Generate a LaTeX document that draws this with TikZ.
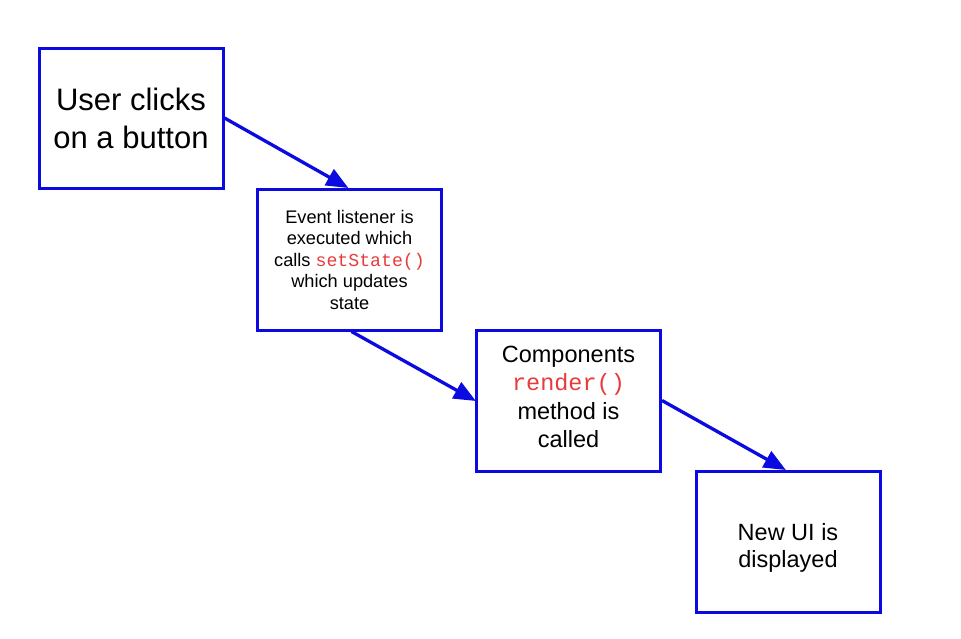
\documentclass[tikz,border=0pt]{standalone}
\usepackage{fontspec}
\setmainfont{Liberation Sans}
\setmonofont{Liberation Mono}
\usetikzlibrary{arrows.meta}
\definecolor{boxblue}{RGB}{10,10,225}
\definecolor{codered}{RGB}{232,60,60}
\newcommand{\codetxt}[1]{{\ttfamily\color{codered}#1}}
\tikzset{
  stepbox/.style={draw=boxblue, line width=3pt, inner sep=0pt, align=center, text=black},
  flow/.style={draw=boxblue, line width=3.3pt, -{Triangle[length=22pt,width=18pt]}, shorten >=-1pt},
}
\begin{document}
\begin{tikzpicture}[x=1pt,y=-1pt]
\useasboundingbox[fill=white] (0,0) rectangle (961,638);
\node[stepbox, minimum width=184pt, minimum height=140pt,
  font=\fontsize{31}{38}\selectfont] (a) at (131,118)
  {User clicks\\on a button};
\node[stepbox, minimum width=184pt, minimum height=141pt,
  font=\fontsize{18.2}{21.5}\selectfont] (b) at (349.5,259.5)
  {Event listener is\\executed which\\calls \codetxt{setState()}\\which updates\\state};
\node[stepbox, minimum width=184pt, minimum height=141pt] (c) at (568.5,400.5) {};
\node[align=center, font=\fontsize{23.5}{28.5}\selectfont] (ct) at (568.5,397)
  {Components\\\codetxt{render()}\\method is\\called};
\node[stepbox, minimum width=184pt, minimum height=141pt] (d) at (788,541.5) {};
\node[align=center, font=\fontsize{23.5}{27}\selectfont] (dt) at (788,548)
  {New UI is\\displayed};
\draw[flow] (a.east) -- ([xshift=-2pt]b.north);
\draw[flow] ([xshift=2pt]b.south) -- (c.west);
\draw[flow] (c.east) -- ([xshift=-3pt]d.north);
\end{tikzpicture}
\end{document}
